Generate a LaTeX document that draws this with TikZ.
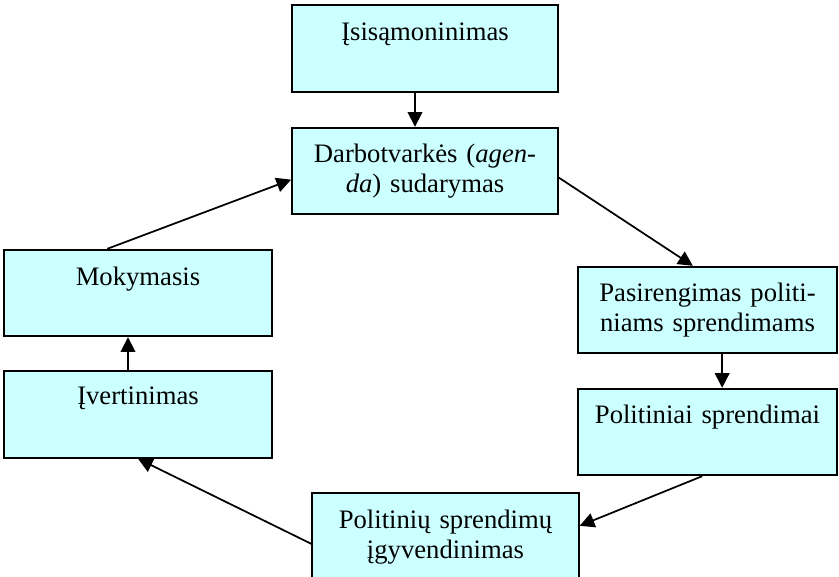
\documentclass[tikz,border=0pt]{standalone}
\usepackage{fontspec}
\setmainfont{Liberation Serif}
\usepackage{tikz}
\usetikzlibrary{arrows.meta}
\definecolor{boxcyan}{RGB}{204,255,255}

\begin{document}
\begin{tikzpicture}[x=0.75pt, y=-0.75pt,
    box/.style={draw, line width=1.3pt, fill=boxcyan, minimum height=65pt},
    txt/.style={anchor=base, align=center, inner sep=0pt, text width=185pt,
        font=\fontsize{20pt}{23pt}\selectfont},
    arr/.style={line width=1.3pt, -{Triangle[length=11pt,width=11pt]}}]
    \useasboundingbox (0,0) rectangle (839,577);

    % Boxes
    \node[box, minimum width=199.5pt] (isis) at (425,48.5) {};
    \node[box, minimum width=199.5pt] (darb) at (425,171) {};
    \node[box, minimum width=194pt] (pasir) at (707.5,310) {};
    \node[box, minimum width=194pt] (polit) at (707.5,432) {};
    \node[box, minimum width=200pt] (igyv) at (445.5,536.5) {};
    \node[box, minimum width=201pt] (vert) at (138,414.5) {};
    \node[box, minimum width=201pt] (moky) at (138,293) {};

    % Texts
    \node[txt] (isisT) at ([yshift=-27.5pt]isis.north) {Įsisąmoninimas};
    \node[txt] (darbT) at ([yshift=-26.5pt]darb.north) {Darbotvarkės (\textit{agen-}\\\textit{da}) sudarymas};
    \node[txt] (pasirT) at ([yshift=-26.5pt]pasir.north) {Pasirengimas politi-\\niams sprendimams};
    \node[txt] (politT) at ([yshift=-26.5pt]polit.north) {Politiniai sprendimai};
    \node[txt] (igyvT) at ([yshift=-27pt]igyv.north) {Politinių sprendimų\\įgyvendinimas};
    \node[txt] (vertT) at ([yshift=-26pt]vert.north) {Įvertinimas};
    \node[txt] (mokyT) at ([yshift=-27.5pt]moky.north) {Mokymasis};

    % Arrows
    \draw[arr] ([xshift=-7.5pt]isis.south) -- ([xshift=-7.5pt]darb.north);
    \draw[arr] ([yshift=-5pt]darb.east) -- ([xshift=-11pt]pasir.north);
    \draw[arr] ([xshift=11pt]pasir.south) -- ([xshift=11pt]polit.north);
    \draw[arr] ([xshift=-4pt]polit.south) -- ([yshift=8pt]igyv.east);
    \draw[arr] ([yshift=-5.5pt]igyv.west) -- (vert.south);
    \draw[arr] ([xshift=-7.5pt]vert.north) -- ([xshift=-7.5pt]moky.south);
    \draw[arr] ([xshift=-23pt]moky.north) -- ([yshift=-6.5pt]darb.west);
\end{tikzpicture}
\end{document}
